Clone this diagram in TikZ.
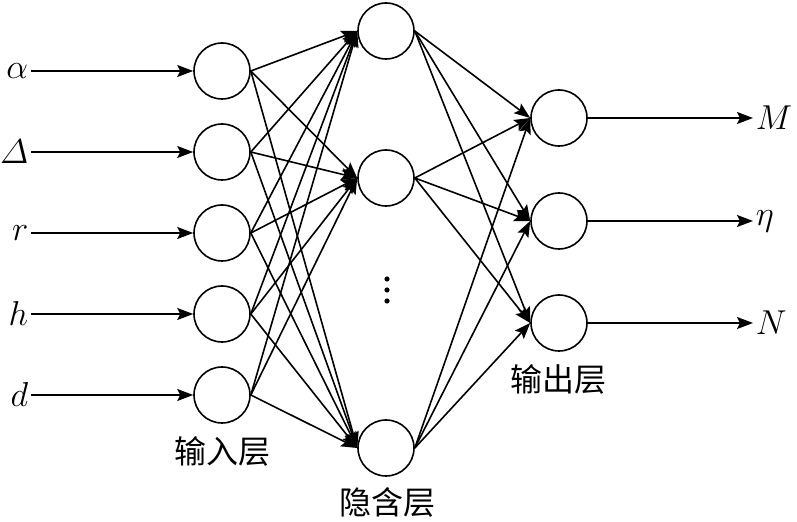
\documentclass[tikz,border=0pt]{standalone}
\usepackage{fontspec}
\newfontfamily\cjk{Noto Sans CJK SC}
\usetikzlibrary{arrows.meta}

\begin{document}
\begin{tikzpicture}[x=0.5pt, y=-0.5pt, line width=0.8pt,
    >={Stealth[length=8pt,width=6pt,inset=1.5pt]},
    neuron/.style={draw, circle, minimum size=28pt, inner sep=0pt},
    var/.style={font=\fontsize{16.5}{19}\selectfont, inner sep=1pt},
    layer/.style={font=\fontsize{16}{19}\selectfont\cjk, inner sep=0pt}]
    \useasboundingbox (0,0) rectangle (797,522);

    % input layer
    \node (in1) [neuron] at (222,71) {};
    \node (in2) [neuron] at (222,152) {};
    \node (in3) [neuron] at (222,233) {};
    \node (in4) [neuron] at (222,314) {};
    \node (in5) [neuron] at (222,395) {};
    % hidden layer
    \node (hid1) [neuron] at (386,31) {};
    \node (hid2) [neuron] at (386,178) {};
    \node (hid3) [neuron] at (386,448) {};
    % output layer
    \node (out1) [neuron] at (559,118) {};
    \node (out2) [neuron] at (559,221) {};
    \node (out3) [neuron] at (559,323) {};

    \node (alpha) [var, anchor=east] at (31,71) {$\alpha$};
    \node (delta) [var, anchor=east] at (31,152) {$\mathnormal{\Delta}$};
    \node (r) [var, anchor=east] at (31,233) {$r$};
    \node (h) [var, anchor=east] at (31,314) {$h$};
    \node (d) [var, anchor=east] at (31,395) {$d$};
    \node (M) [var, anchor=west] at (753,118) {$M$};
    \node (eta) [var, anchor=west] at (753,221) {$\eta$};
    \node (N) [var, anchor=west] at (753,323) {$N$};

    \node (inlab) [layer] at (222,451) {输入层};
    \node (hidlab) [layer] at (387,502) {隐含层};
    \node (outlab) [layer] at (558,379) {输出层};

    \foreach \y in {279,290,301} \fill (387,\y) circle [radius=1.3pt];

    \draw[->] (alpha) -- (in1);
    \draw[->] (delta) -- (in2);
    \draw[->] (r) -- (in3);
    \draw[->] (h) -- (in4);
    \draw[->] (d) -- (in5);
    \draw[->] (out1) -- (M);
    \draw[->] (out2) -- (eta);
    \draw[->] (out3) -- (N);

    \foreach \i in {1,...,5}
        \foreach \j in {1,2,3}
            \draw[->] (in\i.east) -- (hid\j.west);
    \foreach \j in {1,2,3}
        \foreach \k in {1,2,3}
            \draw[->] (hid\j.east) -- (out\k.west);
\end{tikzpicture}
\end{document}
